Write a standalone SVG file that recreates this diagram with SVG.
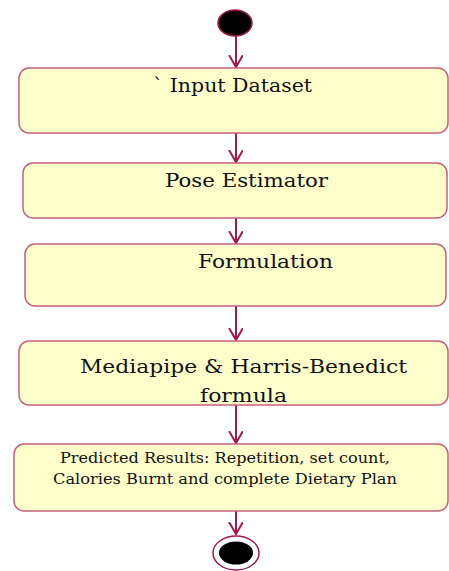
<svg xmlns="http://www.w3.org/2000/svg" width="449" height="571" viewBox="0 0 449 571">
<style>
.box{fill:#ffffcc;stroke:#c4607f;stroke-width:1.5}
.t{font-family:'DejaVu Serif','Liberation Serif','Times New Roman',Times,serif;fill:#111;font-size:19px}
.s{font-size:15px}
.c{stroke:#9e1a4c;stroke-width:2;fill:none}
</style>
<defs>
<marker id="v" markerWidth="14" markerHeight="16" refX="12" refY="7" orient="auto" markerUnits="userSpaceOnUse">
<path d="M0,0 L12,7 L0,14" fill="none" stroke="#9e1a4c" stroke-width="2"/>
</marker>
</defs>
<rect width="449" height="571" fill="#ffffff"/>
<g id="connectors">
<line class="c" x1="236" y1="36" x2="236" y2="67" marker-end="url(#v)"/>
<line class="c" x1="236" y1="133" x2="236" y2="162" marker-end="url(#v)"/>
<line class="c" x1="236" y1="218" x2="236" y2="243" marker-end="url(#v)"/>
<line class="c" x1="236" y1="306" x2="236" y2="340" marker-end="url(#v)"/>
<line class="c" x1="236" y1="405" x2="236" y2="443" marker-end="url(#v)"/>
<line class="c" x1="236" y1="511" x2="236" y2="534" marker-end="url(#v)"/>
</g>
<g id="start">
<ellipse cx="235" cy="23" rx="17" ry="13" fill="#000" stroke="#9e1a4c" stroke-width="1.5"/>
</g>
<g id="input">
<rect class="box" x="19" y="68" width="429" height="65" rx="10"/>
<text class="t" x="153" y="92" textLength="159" lengthAdjust="spacingAndGlyphs">` Input Dataset</text>
</g>
<g id="pose">
<rect class="box" x="23" y="163" width="424" height="55" rx="10"/>
<text class="t" x="165" y="187" textLength="163" lengthAdjust="spacingAndGlyphs">Pose Estimator</text>
</g>
<g id="formulation">
<rect class="box" x="25" y="244" width="421" height="62" rx="10"/>
<text class="t" x="198" y="268" textLength="135" lengthAdjust="spacingAndGlyphs">Formulation</text>
</g>
<g id="mediapipe">
<rect class="box" x="19" y="341" width="429" height="64" rx="10"/>
<text class="t" x="80" y="373" textLength="327" lengthAdjust="spacingAndGlyphs">Mediapipe &amp; Harris-Benedict</text>
<text class="t" x="200" y="402" textLength="87" lengthAdjust="spacingAndGlyphs">formula</text>
</g>
<g id="results">
<rect class="box" x="14" y="444" width="434" height="67" rx="10"/>
<text class="t s" x="60" y="463" textLength="330" lengthAdjust="spacingAndGlyphs">Predicted Results: Repetition, set count,</text>
<text class="t s" x="53" y="484" textLength="344" lengthAdjust="spacingAndGlyphs">Calories Burnt and complete Dietary Plan</text>
</g>
<g id="end">
<ellipse cx="236" cy="553" rx="23" ry="17" fill="#fff" stroke="#9e1a4c" stroke-width="1.5"/>
<ellipse cx="236" cy="553" rx="17" ry="11.5" fill="#000"/>
</g>
</svg>
